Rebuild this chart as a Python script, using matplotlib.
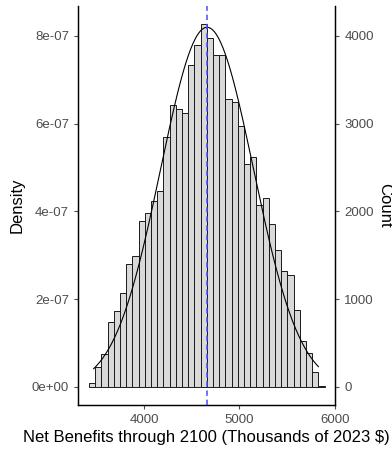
import numpy as np
import matplotlib.pyplot as plt

plt.rcParams['font.family'] = ['Liberation Sans', 'DejaVu Sans']

# histogram bins (Thousands of 2023 $)
bin_start = 3421
bin_width = 65.1
counts = [40, 224, 375, 743, 860, 1065, 1398, 1489, 1886, 1985,
          2114, 2227, 2845, 3212, 3167, 3118, 3667, 3902, 4136, 3982,
          3781, 3781, 3281, 3243, 2970, 2542, 2618, 2068, 2156, 1860,
          1557, 1323, 1273, 875, 527, 391, 167, 14]

# fitted normal curve and mean line
mean_val = 4660
sd_val = 487
curve_range = [3469, 5829]

density_ticks = [0, 2e-07, 4e-07, 6e-07, 8e-07]
density_labels = ['0e+00', '2e-07', '4e-07', '6e-07', '8e-07']
count_ticks = [0, 1000, 2000, 3000, 4000]
x_ticks = [4000, 5000, 6000]

# secondary axis relation: 1000 counts <-> 2e-07 density
count_per_density = 1000 / 2e-07

n_total = sum(counts)
edges = bin_start + bin_width * np.arange(len(counts))

fig = plt.figure(figsize=(3.92, 4.54), dpi=100)
ax = fig.add_axes([0.199, 0.108, 0.656, 0.879])

ax.bar(edges, counts, width=bin_width, align='edge', color='#D9D9D9',
       edgecolor='#1a1a1a', linewidth=0.7, zorder=2)

# normal curve scaled to the histogram
xs = np.linspace(curve_range[0], curve_range[1], 300)
pdf = np.exp(-0.5 * ((xs - mean_val) / sd_val) ** 2) / (sd_val * np.sqrt(2 * np.pi))
ax.plot(xs, pdf * n_total * bin_width, color='black', linewidth=0.8, zorder=3)
ax.axvline(mean_val, color='#4A4AFF', linestyle=(0, (3.5, 2.5)), linewidth=1.1, zorder=4)

ylo, yhi = -207, 4343
ax.set_xlim(3305, 6005)
ax.set_ylim(ylo, yhi)

# left axis shows density, right axis shows count
ax.set_xticks(x_ticks)
ax.set_yticks([d * count_per_density for d in density_ticks])
ax.set_yticklabels(density_labels)

ax2 = ax.twinx()
ax2.set_ylim(ylo, yhi)
ax2.set_yticks(count_ticks)

for a in (ax, ax2):
    a.tick_params(colors='#4D4D4D', labelsize=9.5, length=3, width=0.8)
    a.spines['top'].set_visible(False)
    for s in a.spines.values():
        s.set_linewidth(0.9)
        s.set_color('black')

ax.set_xlabel('Net Benefits through 2100 (Thousands of 2023 $)', fontsize=12, labelpad=3)
ax.set_ylabel('Density', fontsize=12, labelpad=5)
ax2.set_ylabel('Count', fontsize=12, rotation=270, labelpad=13)

fig.savefig('out.png', dpi=100)
